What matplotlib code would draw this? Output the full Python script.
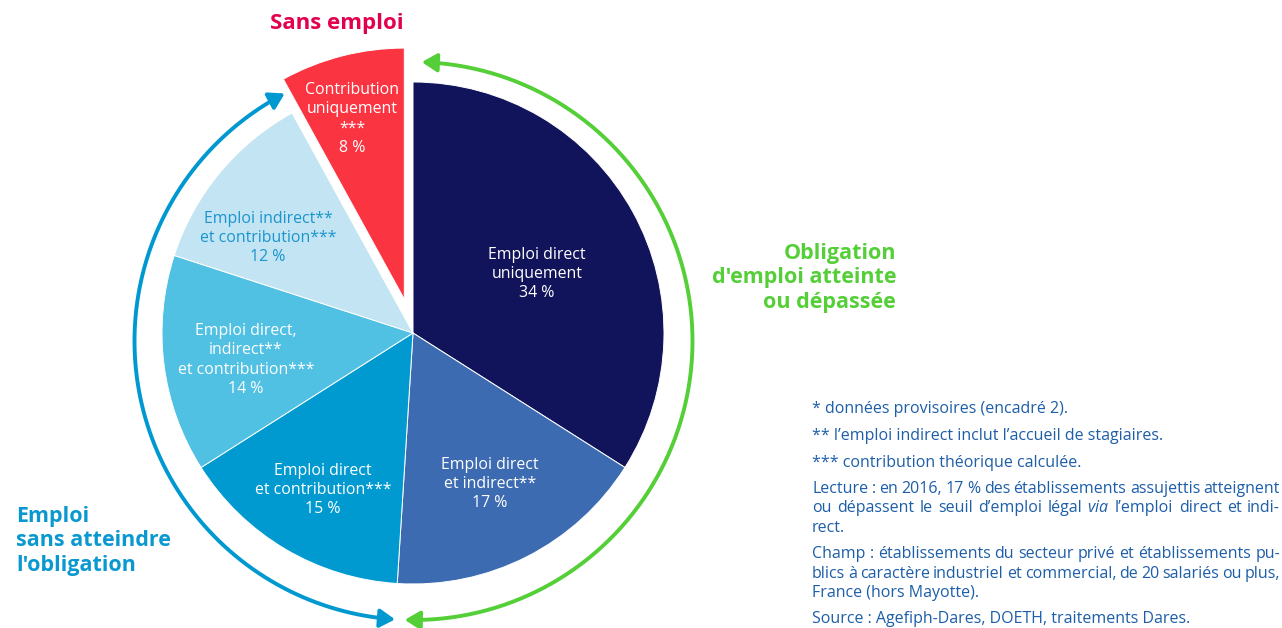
import numpy as np
import matplotlib
matplotlib.use('Agg')
import matplotlib.pyplot as plt
from matplotlib.patches import FancyArrowPatch
from matplotlib.path import Path

plt.rcParams['font.family'] = ['Open Sans', 'DejaVu Sans']
plt.rcParams['mathtext.fontset'] = 'custom'
plt.rcParams['mathtext.rm'] = 'Open Sans'
plt.rcParams['mathtext.it'] = 'Open Sans:italic'

# donnees (% des etablissements assujettis)
parts = ['Emploi direct\nuniquement\n34 %',
         'Emploi direct\net indirect**\n17 %',
         'Emploi direct\net contribution***\n15 %',
         'Emploi direct,\nindirect**\net contribution***\n14 %',
         'Emploi indirect**\net contribution***\n12 %',
         'Contribution\nuniquement\n***\n8 %']
values = [34, 17, 15, 14, 12, 8]
colors = ['#11145a', '#3d6bb2', '#009ad1', '#50c0e3', '#c2e4f3', '#fb3441']
txtcol = ['white', 'white', 'white', 'white', '#1b95cd', 'white']
# positions des etiquettes (pixels depuis le haut)
lab_xy = [(537, 274), (490, 484), (323, 490), (246, 360), (268, 238), (352, 119)]

# notes : (texte, y, justifie)
notes = [("* données provisoires (encadré 2).", 409, False),
         ("** l’emploi indirect inclut l’accueil de stagiaires.", 436, False),
         ("*** contribution théorique calculée.", 463, False),
         ("Lecture : en 2016, 17 % des établissements assujettis atteignent", 489, True),
         ("ou dépassent le seuil d’emploi légal $\\mathit{via}$ l’emploi direct et indi-", 508.5, True),
         ("rect.", 528, False),
         ("Champ : établissements du secteur privé et établissements pu-", 554, True),
         ("blics à caractère industriel et commercial, de 20 salariés ou plus,", 573.5, True),
         ("France (hors Mayotte).", 593, False),
         ("Source : Agefiph-Dares, DOETH, traitements Dares.", 619, False)]

W, H = 1282, 628
fig = plt.figure(figsize=(W / 100, H / 100), dpi=100)
ax = fig.add_axes([0, 0, 1, 1])

cx, cy, r = 413, H - 333, 251
explode = [0, 0, 0, 0, 0, 35]
ax.pie(values, colors=colors, startangle=90, counterclock=False, explode=explode,
       radius=r, center=(cx, cy), wedgeprops=dict(edgecolor='white', linewidth=0.7))

ax.set_xlim(0, W)
ax.set_ylim(0, H)
ax.set_aspect('equal')
ax.axis('off')

for lab, (x, y), c in zip(parts, lab_xy, txtcol):
    ax.text(x, H - y, lab, color=c, fontsize=11.4, ha='center', va='center', linespacing=1.26)

# fleches circulaires
ax_c, ay_c, R = 413.5, H - 341, 279
green = '#55cf38'
blue = '#0098d0'


def arc(a1, a2, col):
    t = np.radians(np.linspace(a1, a2, 200))
    verts = np.column_stack([ax_c + R * np.cos(t), ay_c + R * np.sin(t)])
    p = FancyArrowPatch(path=Path(verts), arrowstyle='<|-|>,head_length=9,head_width=5.5',
                        color=col, lw=2.8, mutation_scale=1)
    ax.add_patch(p)


arc(88.3, -91.8, green)
arc(266.2, 117.5, blue)

ax.text(337, H - 24, 'Sans emploi', color='#e3004f', fontsize=16, fontweight='bold',
        ha='center', va='center')
ax.text(896, H - 278, "Obligation\nd'emploi atteinte\nou dépassée", color=green,
        fontsize=15.5, fontweight='bold', ha='right', va='center', linespacing=1.2)
ax.text(16, H - 541, "Emploi\nsans atteindre\nl'obligation", color='#0a98d0',
        fontsize=15.5, fontweight='bold', ha='left', va='center', linespacing=1.2)

# notes, justifiees entre x0 et x1
x0, x1 = 812, 1280
ncol = '#1d5ea8'
fs = 11.5
fig.canvas.draw()
rend = fig.canvas.get_renderer()
for t, y, just in notes:
    if not just:
        ax.text(x0, H - y, t, color=ncol, fontsize=fs, ha='left', va='center')
        continue
    words = t.split(' ')
    objs = [ax.text(0, H - y, w, color=ncol, fontsize=fs, ha='left', va='center') for w in words]
    widths = [o.get_window_extent(rend).width for o in objs]
    gap = (x1 - x0 - sum(widths)) / (len(words) - 1)
    x = x0
    for o, w in zip(objs, widths):
        o.set_x(x)
        x += w + gap

fig.savefig('out.png', dpi=100)
